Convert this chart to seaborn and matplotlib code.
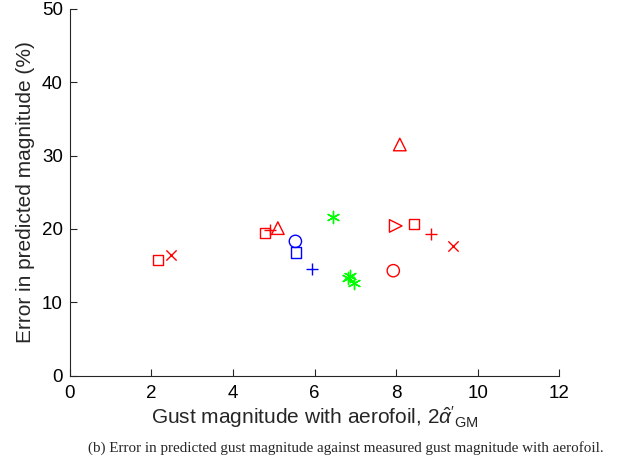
import matplotlib
matplotlib.use("Agg")
import matplotlib.pyplot as plt
import seaborn as sns
import pandas as pd

# Data grouped by marker style
red_sq_x = [2.16, 4.79, 8.43]
red_sq_y = [15.8, 19.4, 20.7]
red_cross_x = [2.48, 9.40]
red_cross_y = [16.5, 17.7]
red_plus_x = [4.91, 8.85]
red_plus_y = [19.9, 19.3]
red_tri_x = [5.10, 8.09]
red_tri_y = [20.1, 31.5]
red_rtri_x = [7.99]
red_rtri_y = [20.4]
red_circ_x = [7.93]
red_circ_y = [14.3]
blue_circ_x = [5.53]
blue_circ_y = [18.3]
blue_sq_x = [5.55]
blue_sq_y = [16.8]
blue_plus_x = [5.94]
blue_plus_y = [14.5]
green_star_x = [6.45, 6.82, 6.86, 6.97]
green_star_y = [21.6, 13.3, 13.6, 12.6]

x_ticks = [0, 2, 4, 6, 8, 10, 12]
y_ticks = [0, 10, 20, 30, 40, 50]

sns.set_style("white")
plt.rcParams['font.family'] = ['Liberation Sans', 'DejaVu Sans']
plt.rcParams['mathtext.fontset'] = 'custom'
plt.rcParams['mathtext.rm'] = 'Liberation Sans'
plt.rcParams['mathtext.it'] = 'Liberation Sans:italic'

fig = plt.figure(figsize=(6.18, 4.62), dpi=100)
ax = fig.add_axes([0.113, 0.187, 0.792, 0.794])

RED = (1, 0, 0)
BLUE = (0, 0, 1)
GREEN = (0, 1, 0)

def plot_group(xs, ys, marker, color, size, lw=1.0):
    df = pd.DataFrame({"x": xs, "y": ys})
    if marker in ('+', 'x') or isinstance(marker, tuple):
        sns.scatterplot(data=df, x="x", y="y", marker=marker, color=color,
                        s=size, linewidth=lw, ax=ax, legend=False, zorder=3)
    else:
        sns.scatterplot(data=df, x="x", y="y", marker=marker, facecolors='none',
                        edgecolor=color, s=size, linewidth=lw, ax=ax,
                        legend=False, zorder=3)

plot_group(red_sq_x, red_sq_y, 's', RED, 55)
plot_group(red_cross_x, red_cross_y, 'x', RED, 55)
plot_group(red_plus_x, red_plus_y, '+', RED, 78)
plot_group(red_tri_x, red_tri_y, '^', RED, 82)
plot_group(red_rtri_x, red_rtri_y, '>', RED, 82)
plot_group(red_circ_x, red_circ_y, 'o', RED, 78)
plot_group(blue_circ_x, blue_circ_y, 'o', BLUE, 78)
plot_group(blue_sq_x, blue_sq_y, 's', BLUE, 55)
plot_group(blue_plus_x, blue_plus_y, '+', BLUE, 78)
plot_group(green_star_x, green_star_y, (6, 2, 0), GREEN, 78)

ax.set_xlim(0, 12)
ax.set_ylim(0, 50)
ax.set_xticks(x_ticks)
ax.set_yticks(y_ticks)
ax.set_xticklabels([str(t) for t in x_ticks])
ax.set_yticklabels([str(t) for t in y_ticks])
ax.tick_params(direction='in', length=5, width=0.8, labelsize=13.5,
               colors=(0.15, 0.15, 0.15), labelcolor='black')
ax.tick_params(axis='x', bottom=True, pad=7)
ax.tick_params(axis='y', left=True, pad=5)
for side in ['top', 'right']:
    ax.spines[side].set_visible(False)
for side in ['left', 'bottom']:
    ax.spines[side].set_color((0.15, 0.15, 0.15))
    ax.spines[side].set_linewidth(0.8)

ax.set_xlabel(r"Gust magnitude with aerofoil, $2\hat{\alpha}'_{\rm GM}$",
              fontsize=15, labelpad=1)
ax.set_ylabel("Error in predicted magnitude (%)", fontsize=15, labelpad=5)

fig.text(0.559, 0.03,
         "(b) Error in predicted gust magnitude against measured gust magnitude with aerofoil.",
         ha='center', va='center', fontsize=10.9, family=['Liberation Serif'])

fig.savefig("out.png", dpi=100, facecolor='white')
